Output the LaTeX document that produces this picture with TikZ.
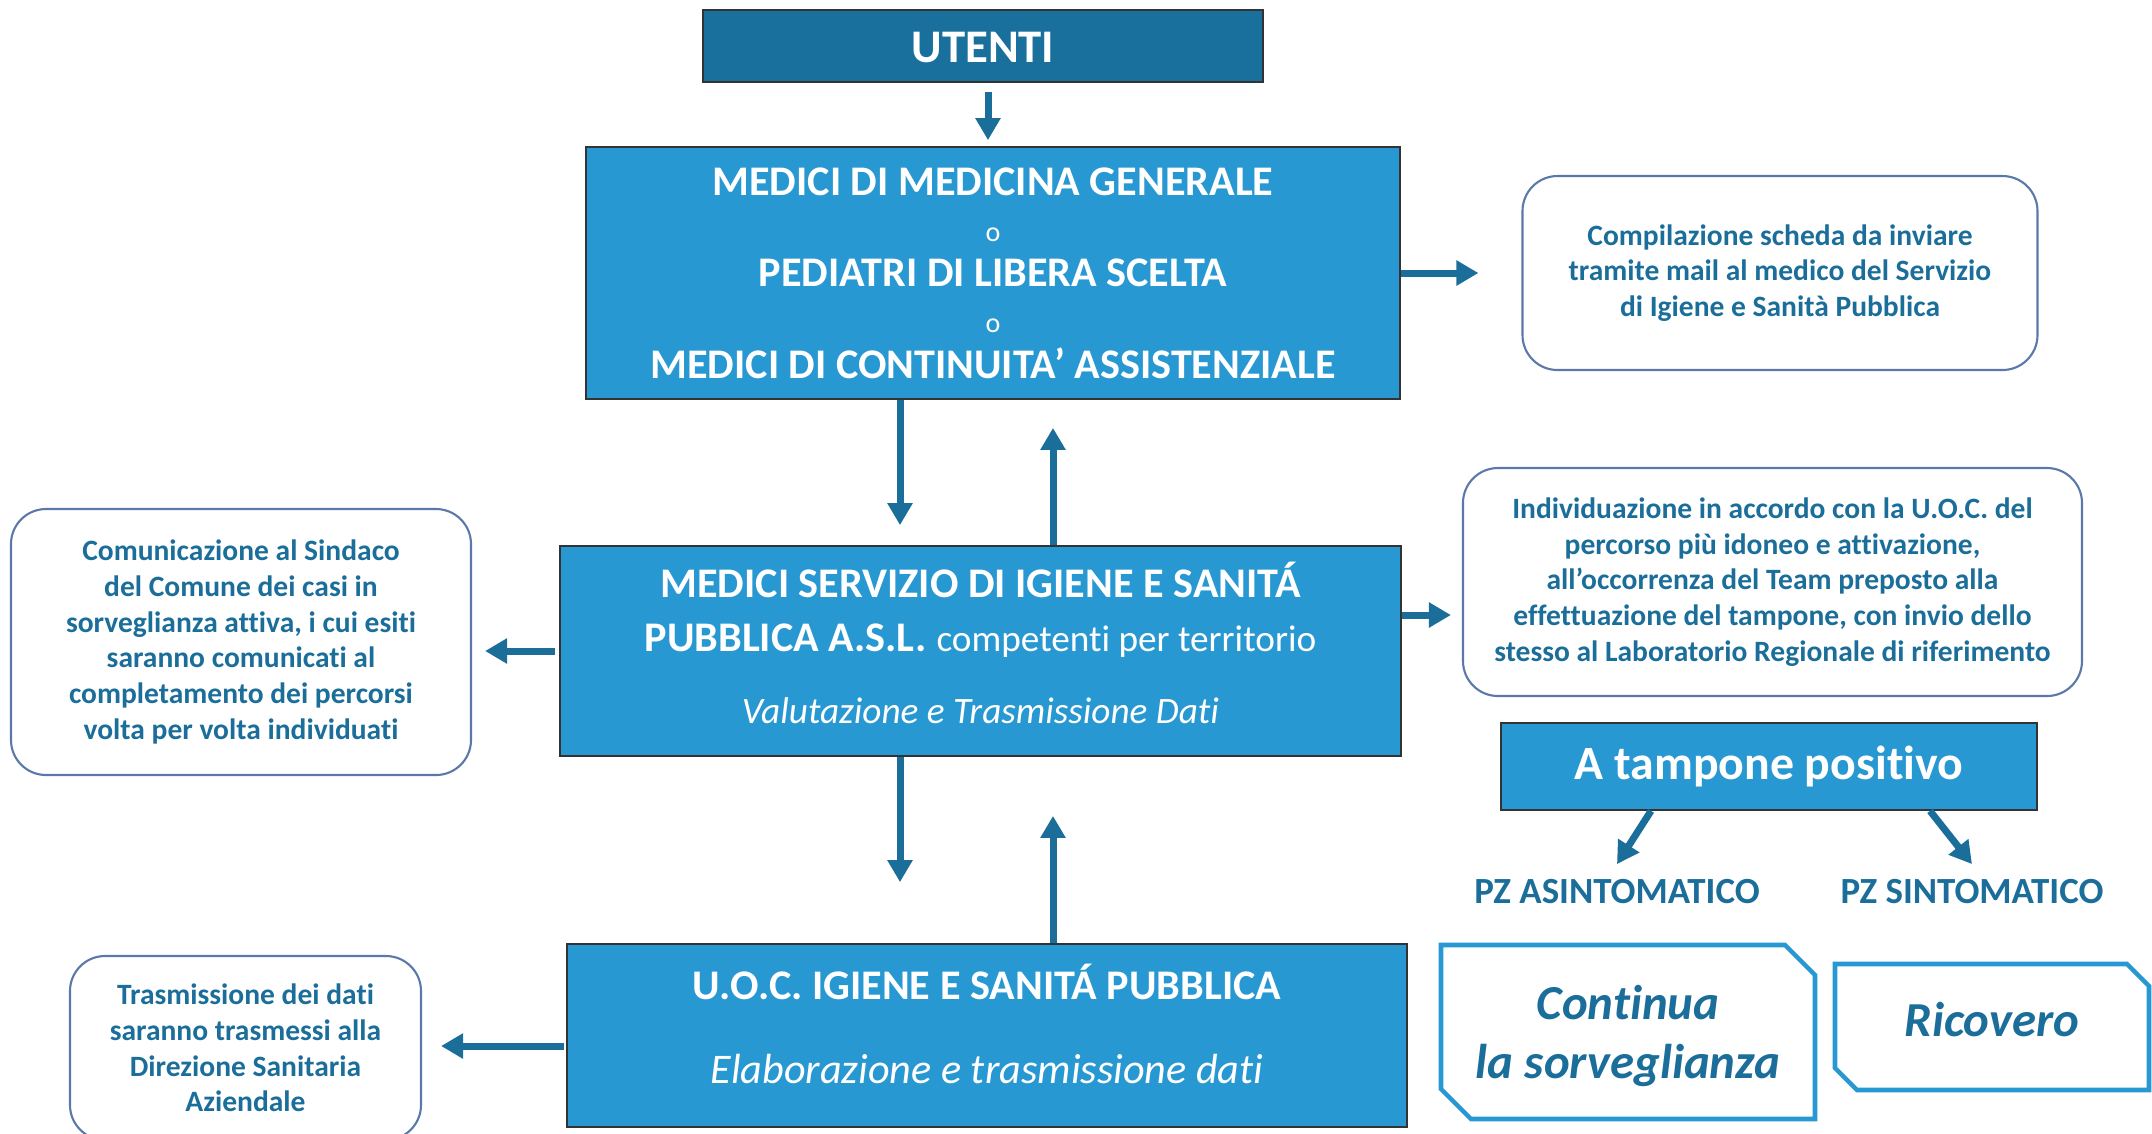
\documentclass[tikz,border=0pt]{standalone}
\usepackage{fontspec}
\setmainfont{Carlito}[Ligatures=NoCommon]
\usetikzlibrary{positioning, shapes.misc, arrows.meta}

\definecolor{darkblu}{HTML}{19709C}
\definecolor{lightblu}{HTML}{2898D2}
\definecolor{textblu}{HTML}{1B6E9A}
\definecolor{edgeblu}{HTML}{5A78A8}

\tikzstyle{headbox} = [rectangle, fill=darkblu, draw=black!80, line width=0.5pt, text=white, font=\bfseries\fontsize{13.3}{15}\selectfont, inner sep=0pt]
\tikzstyle{mainbox} = [rectangle, fill=lightblu, draw=black!80, line width=0.5pt, text=white, align=center, inner sep=0pt]
\tikzstyle{note} = [rectangle, rounded corners=0.35cm, draw=edgeblu, line width=0.6pt, text=textblu, align=center, font=\bfseries\fontsize{8.4}{10.15}\selectfont, inner sep=0pt]
\tikzstyle{outcome} = [chamfered rectangle, chamfered rectangle corners={north east, south west}, draw=lightblu, line width=1.3pt, text=textblu, align=center, font=\bfseries\itshape\fontsize{13.9}{16.8}\selectfont, inner sep=0pt]
\tikzstyle{pztext} = [text=textblu, font=\bfseries\fontsize{10.5}{12}\selectfont, inner sep=0.15cm]
\tikzstyle{arrow} = [line width=0.07cm, draw=textblu, -{Triangle[length=0.22cm,width=0.24cm]}]

\begin{document}
\begin{tikzpicture}[node distance=2cm]
\useasboundingbox (0,0) rectangle (21.52,-11.33);

\node (utenti) [headbox, minimum width=5.6cm, minimum height=0.72cm, text height=0.33cm] at (9.83,-0.46) {UTENTI};

\node (mmg) [mainbox, below of=utenti, xshift=0.1cm, yshift=-0.27cm, minimum width=8.14cm, minimum height=2.52cm, font=\bfseries\fontsize{12}{13}\selectfont] {MEDICI DI MEDICINA GENERALE\\ {\mdseries\fontsize{8}{9}\selectfont o}\\ PEDIATRI DI LIBERA SCELTA\\ {\mdseries\fontsize{8}{9}\selectfont o}\\ MEDICI DI CONTINUITA’ ASSISTENZIALE};

\node (sisp) [mainbox, below of=mmg, xshift=-0.125cm, yshift=-1.78cm, minimum width=8.41cm, minimum height=2.1cm, text depth=0.16cm, font=\fontsize{12}{15.4}\selectfont] {\textbf{MEDICI SERVIZIO DI IGIENE E SANITÁ}\\ \textbf{PUBBLICA A.S.L.} {\fontsize{10.6}{15.4}\selectfont competenti per territorio}\\[5pt] {\itshape\fontsize{10.6}{15.4}\selectfont Valutazione e Trasmissione Dati}};

\node (uoc) [mainbox, below of=sisp, xshift=0.065cm, yshift=-1.845cm, minimum width=8.4cm, minimum height=1.83cm, text depth=0.24cm, font=\fontsize{12}{24}\selectfont] {\textbf{U.O.C. IGIENE E SANITÁ PUBBLICA}\\ \textit{Elaborazione e trasmissione dati}};

\node (scheda) [note, right of=mmg, xshift=5.87cm, minimum width=5.15cm, minimum height=1.94cm] {Compilazione scheda da inviare\\ tramite mail al medico del Servizio\\ di Igiene e Sanità Pubblica};

\node (percorso) [note, right of=sisp, xshift=5.92cm, yshift=0.69cm, minimum width=6.19cm, minimum height=2.28cm] {Individuazione in accordo con la U.O.C. del\\ percorso più idoneo e attivazione,\\ all’occorrenza del Team preposto alla\\ effettuazione del tampone, con invio dello\\ stesso al Laboratorio Regionale di riferimento};

\node (sindaco) [note, left of=sisp, xshift=-5.395cm, yshift=0.09cm, minimum width=4.6cm, minimum height=2.66cm] {Comunicazione al Sindaco\\ del Comune dei casi in\\ sorveglianza attiva, i cui esiti\\ saranno comunicati al\\ completamento dei percorsi\\ volta per volta individuati};

\node (trasm) [note, left of=uoc, xshift=-5.415cm, yshift=-0.125cm, minimum width=3.51cm, minimum height=1.84cm] {Trasmissione dei dati\\ saranno trasmessi alla\\ Direzione Sanitaria\\ Aziendale};

% esito del tampone
\node (tampone) [headbox, fill=lightblu, below of=percorso, xshift=-0.035cm, yshift=0.155cm, minimum width=5.36cm, minimum height=0.87cm, font=\bfseries\fontsize{13.6}{15}\selectfont] {A tampone positivo};

\node (asint) [pztext, below of=tampone, xshift=-1.52cm, yshift=0.745cm] {PZ ASINTOMATICO};
\node (sint) [pztext, right of=asint, xshift=1.55cm] {PZ SINTOMATICO};

\node (continua) [outcome, chamfered rectangle sep=0.15cm, text depth=0pt, below of=asint, xshift=0.11cm, yshift=0.6cm, minimum width=3.74cm, minimum height=1.74cm] {Continua\\ la sorveglianza};
\node (ricovero) [outcome, chamfered rectangle sep=0.11cm, text depth=0.16cm, right of=continua, xshift=1.64cm, yshift=0.05cm, minimum width=3.14cm, minimum height=1.26cm] {Ricovero};

\draw [arrow, shorten <=0.09cm, shorten >=0.06cm] ([xshift=0.05cm]utenti.south) -- ([xshift=0.05cm]utenti.south |- mmg.north);
\draw [arrow, shorten >=0.43cm] (mmg.east) -- (mmg.east -| scheda.west);

\draw [arrow, shorten >=0.2cm] ([xshift=-0.93cm]mmg.south) -- ([xshift=-0.93cm]mmg.south |- sisp.north);
\draw [arrow, shorten >=0.28cm] ([xshift=0.6cm]mmg.south |- sisp.north) -- ([xshift=0.6cm]mmg.south);

\draw [arrow, shorten <=0.04cm, shorten >=0.13cm] (sisp.west) -- (sisp.west -| sindaco.east);
\draw [arrow, shorten >=0.11cm] ([yshift=0.36cm]sisp.east) -- ([yshift=0.36cm]sisp.east -| percorso.west);

\draw [arrow, shorten >=0.61cm] ([xshift=-0.805cm]sisp.south) -- ([xshift=-0.805cm]sisp.south |- uoc.north);
\draw [arrow, shorten >=0.59cm] ([xshift=0.725cm]sisp.south |- uoc.north) -- ([xshift=0.725cm]sisp.south);

\draw [arrow, shorten <=0.02cm, shorten >=0.19cm] ([yshift=-0.105cm]uoc.west) -- ([yshift=-0.105cm]uoc.west -| trasm.east);

\draw [arrow] ([xshift=-1.18cm]tampone.south) -- (asint.north);
\draw [arrow] ([xshift=1.61cm]tampone.south) -- (sint.north);

\end{tikzpicture}
\end{document}
